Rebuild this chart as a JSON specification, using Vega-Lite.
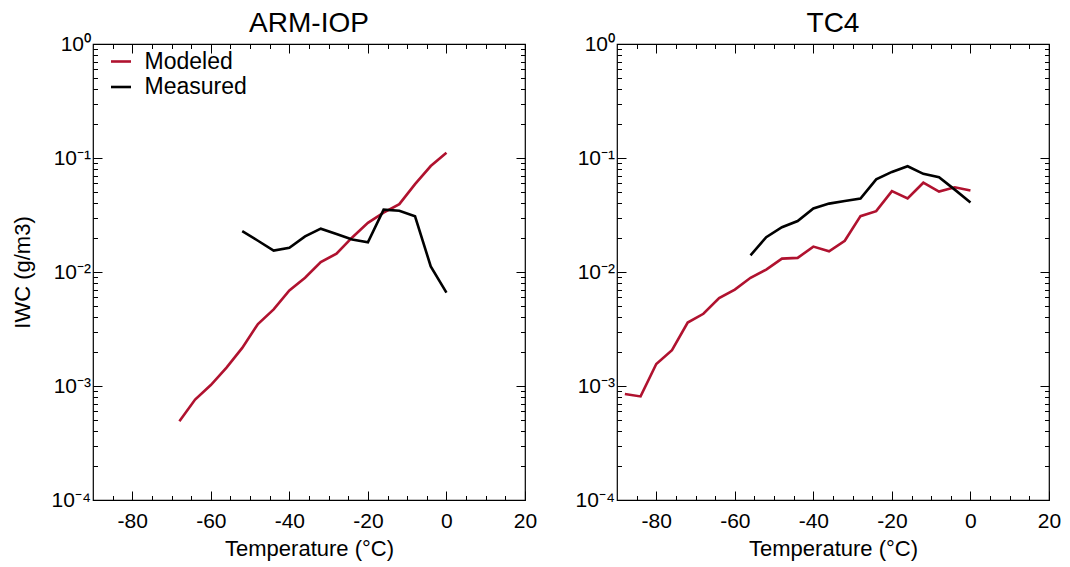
{
  "$schema": "https://vega.github.io/schema/vega-lite/v6.json",
  "padding": {"left": 10, "top": 9, "right": 5, "bottom": 2},
  "spacing": 92,
  "bounds": "flush",
  "config": {
    "font": "Liberation Sans",
    "background": "white",
    "view": {"stroke": "#000", "strokeWidth": 1.2},
    "axis": {"labelColor": "#000", "titleColor": "#000", "tickColor": "#000", "tickWidth": 1, "labelFont": "Liberation Sans", "titleFont": "Liberation Sans", "titleFontWeight": "normal", "grid": false, "domain": false, "labelFlush": false, "labelOverlap": false},
    "title": {"font": "Liberation Sans", "fontWeight": "normal", "fontSize": 28, "color": "#000", "baseline": "alphabetic", "offset": -5},
    "legend": {"labelFont": "Liberation Sans", "labelColor": "#000"}
  },
  "datasets": {
    "arm": [
      {"series": "Modeled", "T": -68, "IWC": 0.00049},
      {"series": "Modeled", "T": -64, "IWC": 0.00076},
      {"series": "Modeled", "T": -60, "IWC": 0.00102},
      {"series": "Modeled", "T": -56, "IWC": 0.00145},
      {"series": "Modeled", "T": -52, "IWC": 0.00216},
      {"series": "Modeled", "T": -48, "IWC": 0.0035},
      {"series": "Modeled", "T": -44, "IWC": 0.0047},
      {"series": "Modeled", "T": -40, "IWC": 0.0069},
      {"series": "Modeled", "T": -36, "IWC": 0.0089},
      {"series": "Modeled", "T": -32, "IWC": 0.0122},
      {"series": "Modeled", "T": -28, "IWC": 0.0145},
      {"series": "Modeled", "T": -24, "IWC": 0.0201},
      {"series": "Modeled", "T": -20, "IWC": 0.027},
      {"series": "Modeled", "T": -16, "IWC": 0.0332},
      {"series": "Modeled", "T": -12, "IWC": 0.0394},
      {"series": "Modeled", "T": -8, "IWC": 0.059},
      {"series": "Modeled", "T": -4, "IWC": 0.085},
      {"series": "Modeled", "T": 0, "IWC": 0.111},
      {"series": "Measured", "T": -52, "IWC": 0.0228},
      {"series": "Measured", "T": -48, "IWC": 0.0188},
      {"series": "Measured", "T": -44, "IWC": 0.0154},
      {"series": "Measured", "T": -40, "IWC": 0.0163},
      {"series": "Measured", "T": -36, "IWC": 0.0205},
      {"series": "Measured", "T": -32, "IWC": 0.024},
      {"series": "Measured", "T": -28, "IWC": 0.0215},
      {"series": "Measured", "T": -24, "IWC": 0.0193},
      {"series": "Measured", "T": -20, "IWC": 0.0182},
      {"series": "Measured", "T": -16, "IWC": 0.0352},
      {"series": "Measured", "T": -12, "IWC": 0.0345},
      {"series": "Measured", "T": -8, "IWC": 0.0308},
      {"series": "Measured", "T": -4, "IWC": 0.0112},
      {"series": "Measured", "T": 0, "IWC": 0.0066}
    ],
    "tc4": [
      {"series": "Modeled", "T": -88, "IWC": 0.00085},
      {"series": "Modeled", "T": -84, "IWC": 0.00081},
      {"series": "Modeled", "T": -80, "IWC": 0.00156},
      {"series": "Modeled", "T": -76, "IWC": 0.00206},
      {"series": "Modeled", "T": -72, "IWC": 0.0036},
      {"series": "Modeled", "T": -68, "IWC": 0.0043},
      {"series": "Modeled", "T": -64, "IWC": 0.0059},
      {"series": "Modeled", "T": -60, "IWC": 0.007},
      {"series": "Modeled", "T": -56, "IWC": 0.0089},
      {"series": "Modeled", "T": -52, "IWC": 0.0105},
      {"series": "Modeled", "T": -48, "IWC": 0.0131},
      {"series": "Modeled", "T": -44, "IWC": 0.0133},
      {"series": "Modeled", "T": -40, "IWC": 0.0167},
      {"series": "Modeled", "T": -36, "IWC": 0.0152},
      {"series": "Modeled", "T": -32, "IWC": 0.0188},
      {"series": "Modeled", "T": -28, "IWC": 0.0309},
      {"series": "Modeled", "T": -24, "IWC": 0.0342},
      {"series": "Modeled", "T": -20, "IWC": 0.0512},
      {"series": "Modeled", "T": -16, "IWC": 0.0442},
      {"series": "Modeled", "T": -12, "IWC": 0.0607},
      {"series": "Modeled", "T": -8, "IWC": 0.0508},
      {"series": "Modeled", "T": -4, "IWC": 0.0553},
      {"series": "Modeled", "T": 0, "IWC": 0.0518},
      {"series": "Measured", "T": -56, "IWC": 0.014},
      {"series": "Measured", "T": -52, "IWC": 0.0202},
      {"series": "Measured", "T": -48, "IWC": 0.0247},
      {"series": "Measured", "T": -44, "IWC": 0.028},
      {"series": "Measured", "T": -40, "IWC": 0.0361},
      {"series": "Measured", "T": -36, "IWC": 0.0398},
      {"series": "Measured", "T": -32, "IWC": 0.042},
      {"series": "Measured", "T": -28, "IWC": 0.044},
      {"series": "Measured", "T": -24, "IWC": 0.065},
      {"series": "Measured", "T": -20, "IWC": 0.0755},
      {"series": "Measured", "T": -16, "IWC": 0.0846},
      {"series": "Measured", "T": -12, "IWC": 0.0726},
      {"series": "Measured", "T": -8, "IWC": 0.0678},
      {"series": "Measured", "T": -4, "IWC": 0.0528},
      {"series": "Measured", "T": 0, "IWC": 0.0408}
    ]
  },
  "resolve": {"scale": {"color": "independent"}, "legend": {"color": "independent"}},
  "hconcat": [
    {
      "width": 432,
      "height": 456,
      "title": {"text": "ARM-IOP"},
      "data": {"name": "arm"},
      "resolve": {"axis": {"x": "independent", "y": "independent"}},
      "layer": [
        {
          "mark": {"type": "line", "strokeWidth": 2.6},
          "encoding": {
            "x": {"field": "T", "type": "quantitative", "scale": {"domain": [-90, 20], "nice": false, "zero": false},
              "axis": {"orient": "bottom", "values": [-80, -60, -40, -20, 0, 20], "tickSize": -9, "labelPadding": 19, "labelFontSize": 21, "labelExpr": "'' + datum.value", "title": "Temperature (\u00b0C)", "titleFontSize": 22, "titlePadding": 7}},
            "y": {"field": "IWC", "type": "quantitative", "scale": {"type": "log", "domain": [0.0001, 1], "nice": false},
              "axis": {"orient": "left", "values": [0.0001, 0.001, 0.01, 0.1, 1], "tickSize": -9, "labelPadding": 11.5, "labelFontSize": 21, "labelExpr": "datum.value > 0.5 ? '10\u2070' : datum.value > 0.05 ? '10\u207b\u00b9' : datum.value > 0.005 ? '10\u207b\u00b2' : datum.value > 0.0005 ? '10\u207b\u00b3' : '10\u207b\u2074'", "title": "IWC (g/m3)", "titleFontSize": 22, "titlePadding": 17}},
            "color": {"field": "series", "type": "nominal", "scale": {"domain": ["Modeled", "Measured"], "range": ["#b0122f", "#000000"]},
              "legend": {"orient": "none", "legendX": 16.5, "legendY": 6, "title": null, "symbolType": "stroke", "symbolSize": 400, "symbolStrokeWidth": 2.6, "labelFontSize": 23, "labelOffset": 12, "rowPadding": 1.5, "padding": 0}}
          }
        },
        {
          "mark": {"type": "point", "opacity": 0},
          "encoding": {
            "x": {"field": "T", "type": "quantitative", "scale": {"domain": [-90, 20], "nice": false, "zero": false},
              "axis": {"orient": "bottom", "values": [-85, -75, -70, -65, -55, -50, -45, -35, -30, -25, -15, -10, -5, 5, 10, 15], "tickSize": -4.5, "labels": false, "title": null}},
            "y": {"field": "IWC", "type": "quantitative", "scale": {"type": "log", "domain": [0.0001, 1], "nice": false},
              "axis": {"orient": "left", "values": [0.0002, 0.0003, 0.0004, 0.0005, 0.0006, 0.0007, 0.0008, 0.0009, 0.002, 0.003, 0.004, 0.005, 0.006, 0.007, 0.008, 0.009, 0.02, 0.03, 0.04, 0.05, 0.06, 0.07, 0.08, 0.09, 0.2, 0.3, 0.4, 0.5, 0.6, 0.7, 0.8, 0.9], "tickSize": -4.5, "labels": false, "title": null}}
          }
        },
        {
          "mark": {"type": "point", "opacity": 0},
          "encoding": {
            "x": {"field": "T", "type": "quantitative", "scale": {"domain": [-90, 20], "nice": false, "zero": false},
              "axis": {"orient": "top", "values": [-80, -60, -40, -20, 0, 20], "tickSize": -9, "labels": false, "title": null}},
            "y": {"field": "IWC", "type": "quantitative", "scale": {"type": "log", "domain": [0.0001, 1], "nice": false},
              "axis": {"orient": "right", "values": [0.0001, 0.001, 0.01, 0.1, 1], "tickSize": -9, "labels": false, "title": null}}
          }
        },
        {
          "mark": {"type": "point", "opacity": 0},
          "encoding": {
            "x": {"field": "T", "type": "quantitative", "scale": {"domain": [-90, 20], "nice": false, "zero": false},
              "axis": {"orient": "top", "values": [-85, -75, -70, -65, -55, -50, -45, -35, -30, -25, -15, -10, -5, 5, 10, 15], "tickSize": -4.5, "labels": false, "title": null}},
            "y": {"field": "IWC", "type": "quantitative", "scale": {"type": "log", "domain": [0.0001, 1], "nice": false},
              "axis": {"orient": "right", "values": [0.0002, 0.0003, 0.0004, 0.0005, 0.0006, 0.0007, 0.0008, 0.0009, 0.002, 0.003, 0.004, 0.005, 0.006, 0.007, 0.008, 0.009, 0.02, 0.03, 0.04, 0.05, 0.06, 0.07, 0.08, 0.09, 0.2, 0.3, 0.4, 0.5, 0.6, 0.7, 0.8, 0.9], "tickSize": -4.5, "labels": false, "title": null}}
          }
        }
      ]
    },
    {
      "width": 432,
      "height": 456,
      "title": {"text": "TC4"},
      "data": {"name": "tc4"},
      "resolve": {"axis": {"x": "independent", "y": "independent"}},
      "layer": [
        {
          "mark": {"type": "line", "strokeWidth": 2.6},
          "encoding": {
            "x": {"field": "T", "type": "quantitative", "scale": {"domain": [-90, 20], "nice": false, "zero": false},
              "axis": {"orient": "bottom", "values": [-80, -60, -40, -20, 0, 20], "tickSize": -9, "labelPadding": 19, "labelFontSize": 21, "labelExpr": "'' + datum.value", "title": "Temperature (\u00b0C)", "titleFontSize": 22, "titlePadding": 7}},
            "y": {"field": "IWC", "type": "quantitative", "scale": {"type": "log", "domain": [0.0001, 1], "nice": false},
              "axis": {"orient": "left", "values": [0.0001, 0.001, 0.01, 0.1, 1], "tickSize": -9, "labelPadding": 11.5, "labelFontSize": 21, "labelExpr": "datum.value > 0.5 ? '10\u2070' : datum.value > 0.05 ? '10\u207b\u00b9' : datum.value > 0.005 ? '10\u207b\u00b2' : datum.value > 0.0005 ? '10\u207b\u00b3' : '10\u207b\u2074'", "title": null}},
            "color": {"field": "series", "type": "nominal", "scale": {"domain": ["Modeled", "Measured"], "range": ["#b0122f", "#000000"]}, "legend": null}
          }
        },
        {
          "mark": {"type": "point", "opacity": 0},
          "encoding": {
            "x": {"field": "T", "type": "quantitative", "scale": {"domain": [-90, 20], "nice": false, "zero": false},
              "axis": {"orient": "bottom", "values": [-85, -75, -70, -65, -55, -50, -45, -35, -30, -25, -15, -10, -5, 5, 10, 15], "tickSize": -4.5, "labels": false, "title": null}},
            "y": {"field": "IWC", "type": "quantitative", "scale": {"type": "log", "domain": [0.0001, 1], "nice": false},
              "axis": {"orient": "left", "values": [0.0002, 0.0003, 0.0004, 0.0005, 0.0006, 0.0007, 0.0008, 0.0009, 0.002, 0.003, 0.004, 0.005, 0.006, 0.007, 0.008, 0.009, 0.02, 0.03, 0.04, 0.05, 0.06, 0.07, 0.08, 0.09, 0.2, 0.3, 0.4, 0.5, 0.6, 0.7, 0.8, 0.9], "tickSize": -4.5, "labels": false, "title": null}}
          }
        },
        {
          "mark": {"type": "point", "opacity": 0},
          "encoding": {
            "x": {"field": "T", "type": "quantitative", "scale": {"domain": [-90, 20], "nice": false, "zero": false},
              "axis": {"orient": "top", "values": [-80, -60, -40, -20, 0, 20], "tickSize": -9, "labels": false, "title": null}},
            "y": {"field": "IWC", "type": "quantitative", "scale": {"type": "log", "domain": [0.0001, 1], "nice": false},
              "axis": {"orient": "right", "values": [0.0001, 0.001, 0.01, 0.1, 1], "tickSize": -9, "labels": false, "title": null}}
          }
        },
        {
          "mark": {"type": "point", "opacity": 0},
          "encoding": {
            "x": {"field": "T", "type": "quantitative", "scale": {"domain": [-90, 20], "nice": false, "zero": false},
              "axis": {"orient": "top", "values": [-85, -75, -70, -65, -55, -50, -45, -35, -30, -25, -15, -10, -5, 5, 10, 15], "tickSize": -4.5, "labels": false, "title": null}},
            "y": {"field": "IWC", "type": "quantitative", "scale": {"type": "log", "domain": [0.0001, 1], "nice": false},
              "axis": {"orient": "right", "values": [0.0002, 0.0003, 0.0004, 0.0005, 0.0006, 0.0007, 0.0008, 0.0009, 0.002, 0.003, 0.004, 0.005, 0.006, 0.007, 0.008, 0.009, 0.02, 0.03, 0.04, 0.05, 0.06, 0.07, 0.08, 0.09, 0.2, 0.3, 0.4, 0.5, 0.6, 0.7, 0.8, 0.9], "tickSize": -4.5, "labels": false, "title": null}}
          }
        }
      ]
    }
  ]
}
